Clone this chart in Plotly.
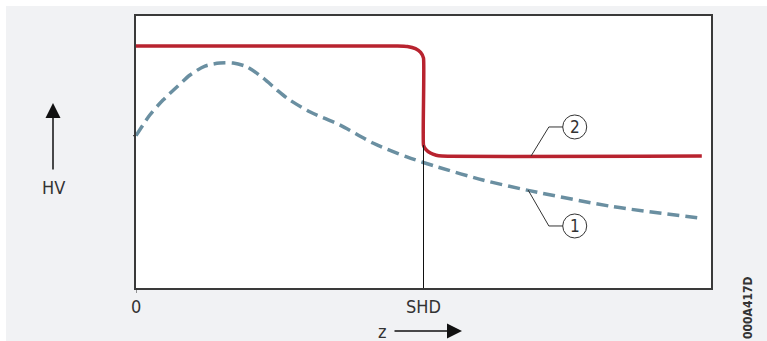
import plotly.graph_objects as go

# ---- data ----
z_red = [0.0, 4.55, 4.72, 4.86, 4.95, 5.0, 5.0, 5.04, 5.12, 5.22, 5.32, 9.84]
hv_red = [89.0, 89.0, 88.8, 88.0, 86.6, 84.5, 52.5, 51.0, 49.6, 48.8, 48.5, 48.5]

z_blue = [0.0, 0.24, 0.47, 0.71, 0.94, 1.20, 1.46, 1.69, 1.93, 2.21, 2.45, 2.64, 3.03, 3.55, 4.12, 4.71, 5.23, 6.03, 6.82, 8.30, 9.81]
hv_blue = [56.0, 63.6, 69.1, 73.9, 78.3, 81.6, 82.7, 82.7, 81.3, 77.2, 72.8, 69.6, 64.7, 59.9, 53.3, 48.2, 44.6, 39.7, 35.9, 29.9, 25.7]

tick_vals = [0, 5]
tick_text = ["0", "SHD"]
shd = 5.0
shd_top = 52.5

callout_labels = ["1", "2"]
callout_center = [(7.63, 22.8), (7.63, 59.2)]
callout_elbow = [(7.18, 22.8), (7.18, 59.2)]
callout_target = [(6.82, 36.0), (6.87, 48.5)]

RED = "#b8232f"
BLUE = "#6a8fa1"
INK = "#333333"
BG = "#f1f2f4"
FONT = "DejaVu Sans Condensed"

W, H = 767, 341
L, R, T, B = 136, 56, 16, 53
pw, ph = W - L - R, H - T - B

fig = go.Figure()

fig.add_trace(go.Scatter(x=z_blue, y=hv_blue, mode="lines",
                         line=dict(color=BLUE, width=3.5, dash="12px,6px", shape="spline", smoothing=0.8),
                         hoverinfo="skip", showlegend=False))
fig.add_trace(go.Scatter(x=z_red, y=hv_red, mode="lines",
                         line=dict(color=RED, width=3.5, shape="spline", smoothing=0.4),
                         hoverinfo="skip", showlegend=False))

shapes = []
# background: white strips at top / left
shapes.append(dict(type="rect", xref="paper", yref="paper",
                   x0=-L / pw, x1=(W - L) / pw,
                   y0=(H - B - 6) / ph, y1=(H - B) / ph + 0.1,
                   fillcolor="white", line_width=0, layer="below"))
shapes.append(dict(type="rect", xref="paper", yref="paper",
                   x0=-L / pw - 0.1, x1=-(L - 6) / pw,
                   y0=-B / ph - 0.1, y1=(H - B) / ph + 0.1,
                   fillcolor="white", line_width=0, layer="below"))
# plot area white
shapes.append(dict(type="rect", xref="paper", yref="paper", x0=0, x1=1, y0=0, y1=1,
                   fillcolor="white", line_width=0, layer="below"))
# SHD vertical line
shapes.append(dict(type="line", xref="x", yref="y", x0=shd, x1=shd, y0=0, y1=shd_top,
                   line=dict(color="#111111", width=1)))
# small ticks at origin
shapes.append(dict(type="line", xref="x", yref="paper", x0=0, x1=0, y0=0, y1=-5 / ph,
                   line=dict(color=INK, width=1)))
shapes.append(dict(type="line", xref="paper", yref="y", x0=0, x1=-3 / pw, y0=hv_blue[0], y1=hv_blue[0],
                   line=dict(color=INK, width=1)))
# callouts
for (cx, cy), (ex, ey), (tx, ty) in zip(callout_center, callout_elbow, callout_target):
    shapes.append(dict(type="circle", xref="x", yref="y", xsizemode="pixel", ysizemode="pixel",
                       xanchor=cx, yanchor=cy, x0=-12, x1=12, y0=-12, y1=12,
                       line=dict(color=INK, width=1), fillcolor="white"))
    shapes.append(dict(type="path", xref="x", yref="y",
                       path=f"M {tx},{ty} L {ex},{ey} L {cx - 0.205},{cy}",
                       line=dict(color=INK, width=1)))

annotations = []
for lab, (cx, cy) in zip(callout_labels, callout_center):
    annotations.append(dict(x=cx, y=cy, xref="x", yref="y", text=lab, showarrow=False,
                            xanchor="center", yanchor="middle",
                            font=dict(family=FONT, size=17, color=INK)))
# x tick labels
for v, t in zip(tick_vals, tick_text):
    annotations.append(dict(x=v, y=(288 - 306) / ph, xref="x", yref="paper", text=t, showarrow=False,
                            xanchor="center", yanchor="middle",
                            font=dict(family=FONT, size=18, color=INK)))
# HV label and arrow
annotations.append(dict(x=(53 - L) / pw, y=(288 - 187) / ph, xref="paper", yref="paper", text="HV",
                        showarrow=False, xanchor="center", yanchor="middle",
                        font=dict(family=FONT, size=18, color=INK)))
annotations.append(dict(x=(53 - L) / pw, y=(288 - 103) / ph, xref="paper", yref="paper", text="",
                        showarrow=True, ax=0, ay=68, arrowhead=2, arrowsize=2.0, arrowwidth=1.5,
                        arrowcolor="#111111"))
# z label and arrow
annotations.append(dict(x=(382 - L) / pw, y=(288 - 331) / ph, xref="paper", yref="paper", text="z",
                        showarrow=False, xanchor="center", yanchor="middle",
                        font=dict(family=FONT, size=18, color=INK)))
annotations.append(dict(x=(462 - L) / pw, y=(288 - 331) / ph, xref="paper", yref="paper", text="",
                        showarrow=True, ax=-69, ay=0, arrowhead=2, arrowsize=2.0, arrowwidth=1.5,
                        arrowcolor="#111111"))
# figure code
annotations.append(dict(x=(748 - L) / pw, y=(288 - 308) / ph, xref="paper", yref="paper", text="<b>000A417D</b>",
                        showarrow=False, textangle=-90, xanchor="center", yanchor="middle",
                        font=dict(family=FONT, size=12, color=INK)))

fig.update_layout(
    width=W, height=H,
    margin=dict(l=L, r=R, t=T, b=B),
    paper_bgcolor=BG, plot_bgcolor="white",
    shapes=shapes, annotations=annotations,
    xaxis=dict(range=[0, 10], showgrid=False, zeroline=False, showticklabels=False, ticks="",
               showline=True, mirror=True, linecolor="#3a3a3a", linewidth=2, fixedrange=True),
    yaxis=dict(range=[0, 100], showgrid=False, zeroline=False, showticklabels=False, ticks="",
               showline=True, mirror=True, linecolor="#3a3a3a", linewidth=2, fixedrange=True),
    showlegend=False,
)

fig.write_html("out.html", config={"displayModeBar": False},
               post_script="document.body.style.margin='0px';document.body.style.overflow='hidden';")
